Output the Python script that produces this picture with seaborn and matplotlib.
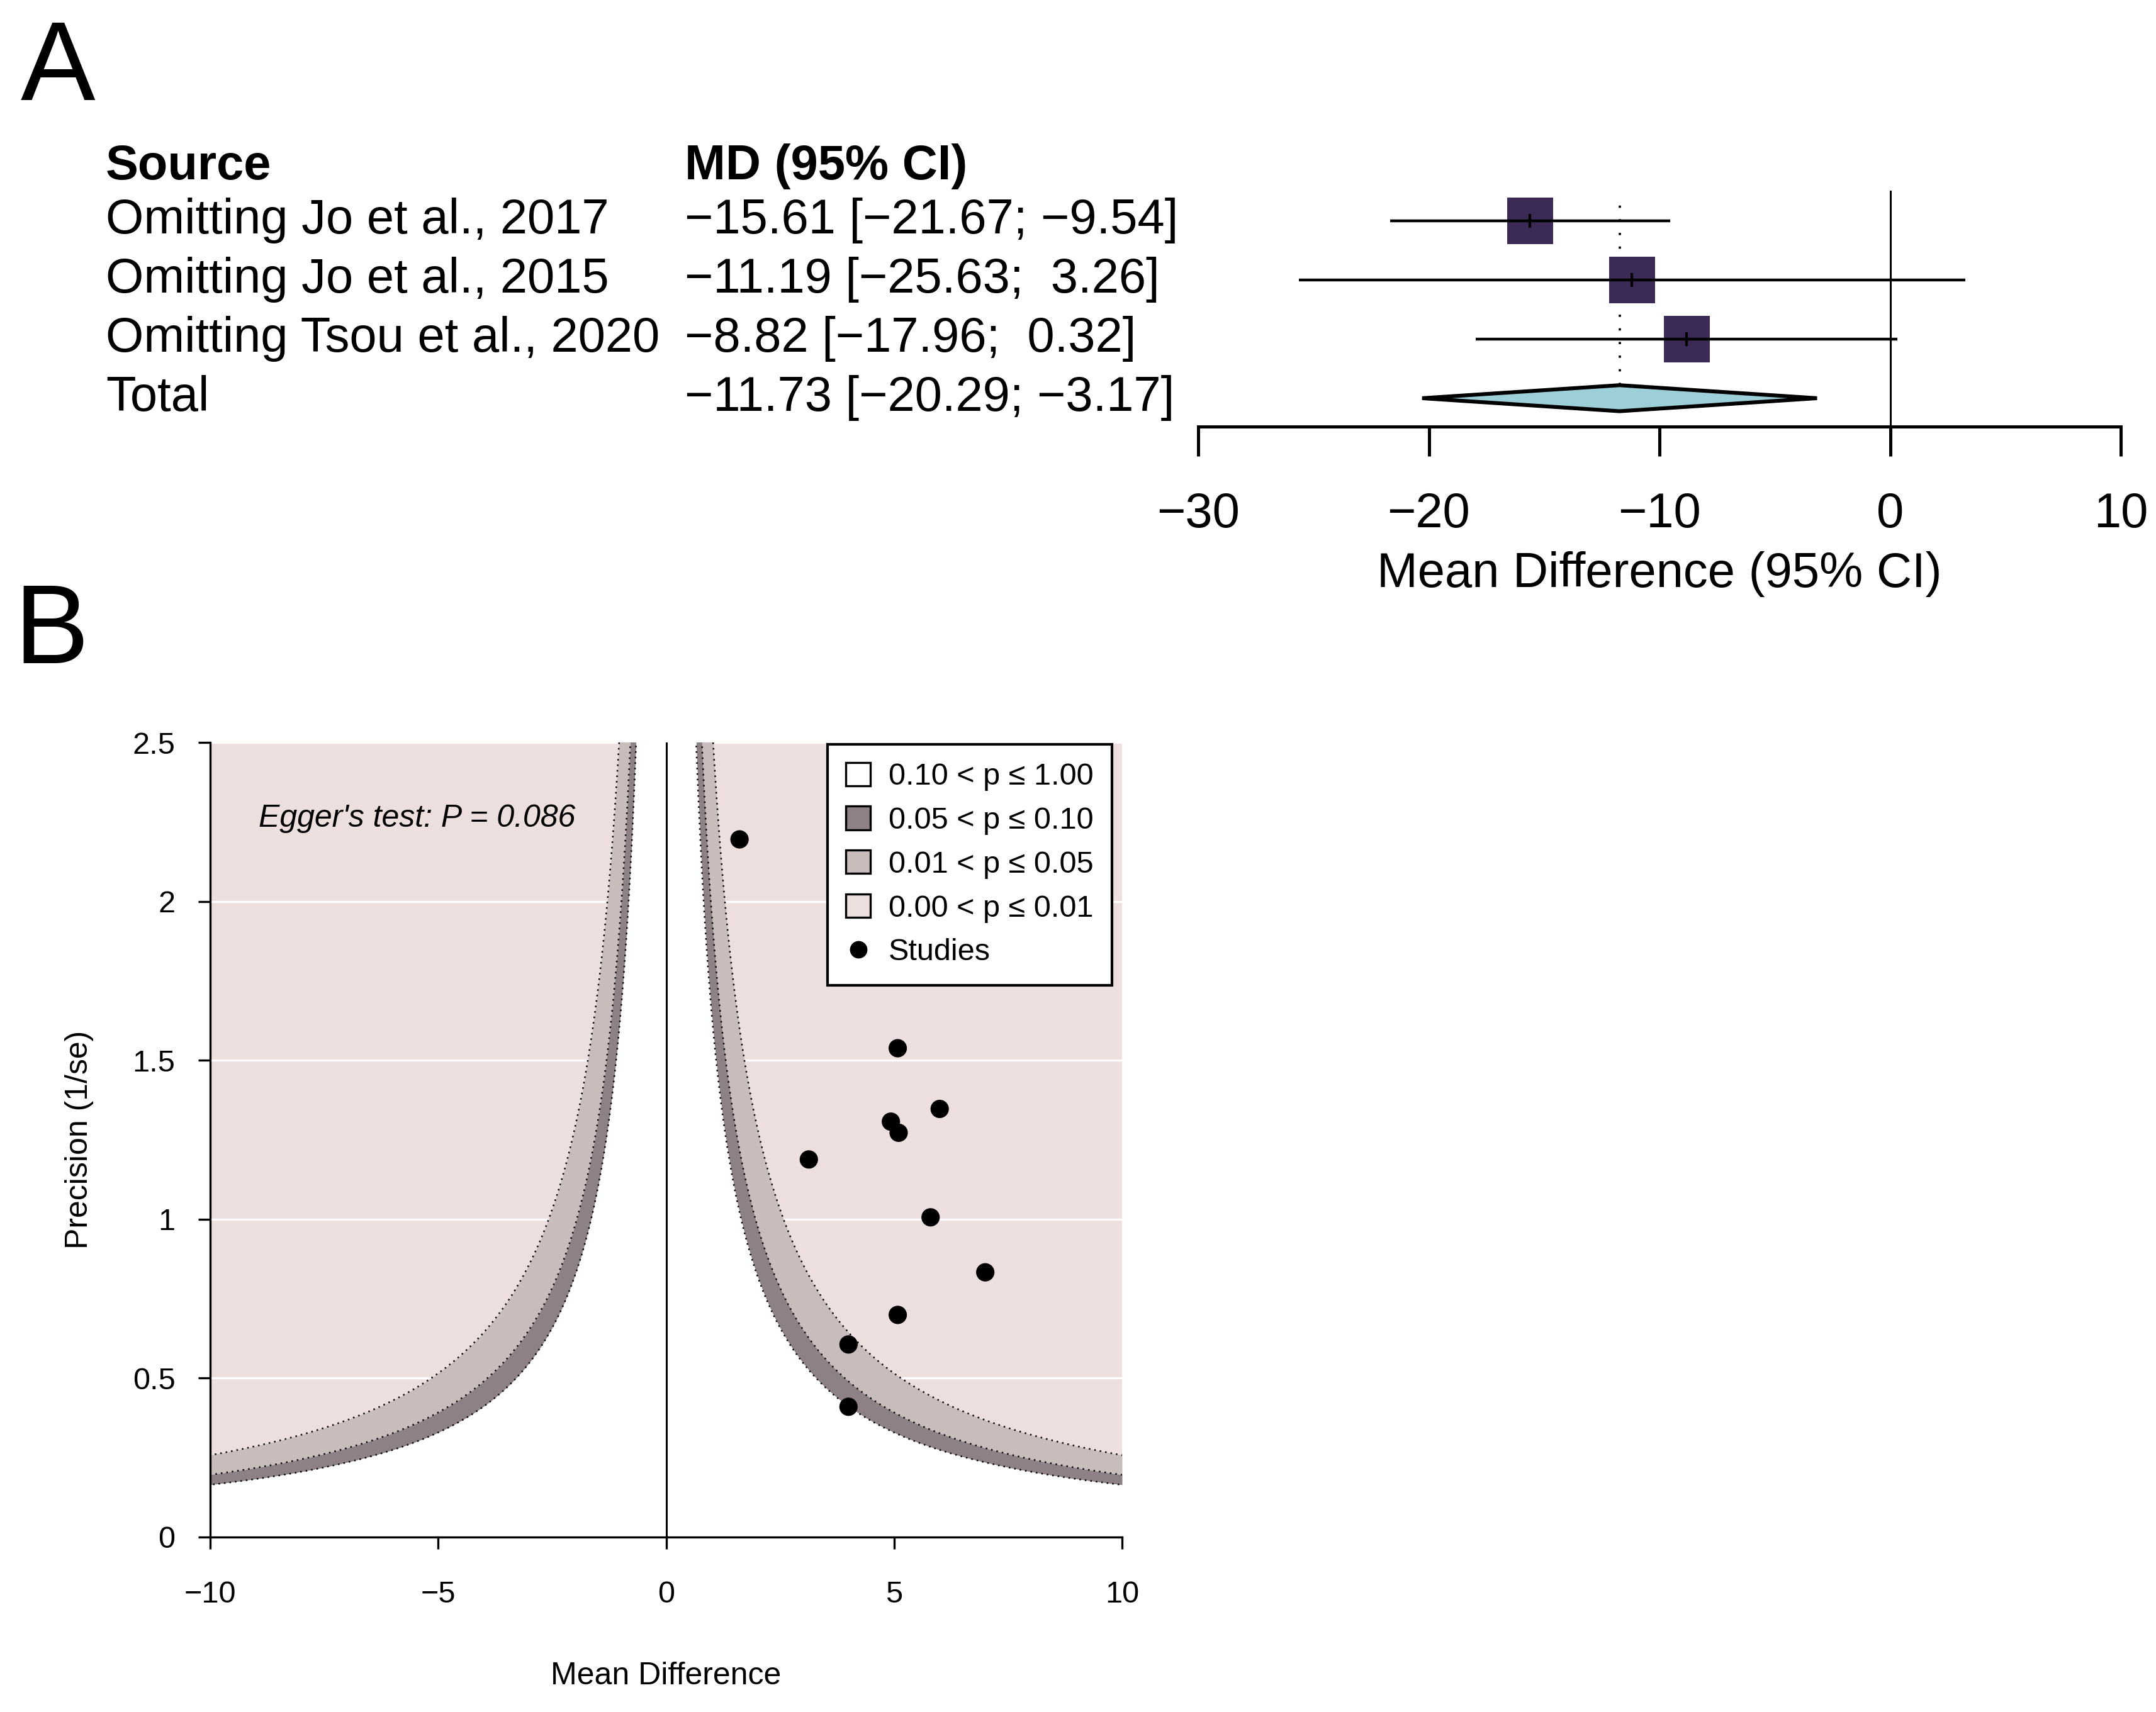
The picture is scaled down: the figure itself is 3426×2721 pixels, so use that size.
import matplotlib
matplotlib.use("Agg")
import matplotlib.pyplot as plt
import matplotlib.transforms as mtransforms
from matplotlib.patches import Patch
from matplotlib.lines import Line2D
import numpy as np
import pandas as pd
import seaborn as sns

# Panel A: leave-one-out sensitivity analysis
sources = ["Omitting Jo et al., 2017", "Omitting Jo et al., 2015", "Omitting Tsou et al., 2020"]
md = [-15.61, -11.19, -8.82]
ci_low = [-21.67, -25.63, -17.96]
ci_high = [-9.54, 3.26, 0.32]
total_md = -11.73
total_low = -20.29
total_high = -3.17
forest_ticks = [-30, -20, -10, 0, 10]

# Panel B: contour-enhanced funnel plot
study_md = [1.61, 5.08, 6.0, 4.93, 5.1, 3.13, 5.8, 7.0, 5.08, 4.0, 4.0]
study_prec = [2.195, 1.538, 1.347, 1.307, 1.272, 1.188, 1.006, 0.833, 0.699, 0.606, 0.41]
z_levels = [1.645, 1.96, 2.576]   # two-sided p = 0.10, 0.05, 0.01
legend_labels = ["0.10 < p \u2264 1.00", "0.05 < p \u2264 0.10", "0.01 < p \u2264 0.05", "0.00 < p \u2264 0.01"]
egger_text = "Egger's test: P = 0.086"

sns.set_style("white")
plt.rcParams['font.family'] = ['Liberation Sans', 'DejaVu Sans']
plt.rcParams['text.color'] = 'black'
plt.rcParams['axes.labelcolor'] = 'black'
plt.rcParams['xtick.color'] = 'black'
plt.rcParams['ytick.color'] = 'black'

MINUS = "\u2212"
def fmt(v, width=0):
    return f"{v:{width}.2f}".replace("-", MINUS)

fig = plt.figure(figsize=(17.13, 13.605), dpi=200)

# ---------------- Panel A ----------------
axA = fig.add_axes([1904 / 3426, 1 - 678 / 2721, (3370 - 1904) / 3426, (678 - 303) / 2721])
axA.set_xlim(-30, 10)
axA.set_ylim(0.52, 4.51)
rows = [4, 3, 2]
total_row = 1
fs_a = 28

df_forest = pd.DataFrame({"md": md, "row": rows})
sns.scatterplot(data=df_forest, x="md", y="row", marker="s", s=700, color="#3B2A55",
                edgecolor="none", ax=axA, zorder=2, legend=False)
axA.hlines(rows, ci_low, ci_high, color="black", lw=1.6, zorder=3)
axA.scatter(md, rows, marker="|", s=64, color="black", linewidths=1.5, zorder=4)

h = 0.22
axA.fill([total_low, total_md, total_high, total_md],
         [total_row, total_row + h, total_row, total_row - h],
         facecolor="#9DCFD8", edgecolor="black", lw=2.2, zorder=3)
axA.plot([total_md, total_md], [total_row + h, 4.35], color="black", lw=1.3,
         linestyle=(0, (1, 5)), zorder=1)
axA.axvline(0, color="black", lw=1.1, zorder=1)

for s in ["left", "top", "right"]:
    axA.spines[s].set_visible(False)
axA.spines["bottom"].set_linewidth(1.8)
axA.spines["bottom"].set_color("black")
axA.set_xticks(forest_ticks)
axA.set_yticks([])
axA.tick_params(axis="x", direction="out", length=17, width=1.8, pad=20,
                labelsize=fs_a, colors="black", bottom=True)
axA.set_xlabel("Mean Difference (95% CI)", fontsize=fs_a, labelpad=8)
axA.set_ylabel("")

trans = mtransforms.blended_transform_factory(fig.transFigure, axA.transData)
col1 = 168 / 3426
col2 = 1088 / 3426
axA.text(col1, 4.92, "Source", transform=trans, fontsize=fs_a, fontweight="bold", va="center", ha="left")
axA.text(col2, 4.92, "MD (95% CI)", transform=trans, fontsize=fs_a, fontweight="bold", va="center", ha="left")
for name, m, lo, hi, r in zip(sources, md, ci_low, ci_high, rows):
    axA.text(col1, r, name, transform=trans, fontsize=fs_a, va="center", ha="left")
    axA.text(col2, r, f"{fmt(m)} [{fmt(lo)}; {fmt(hi, 5)}]", transform=trans,
             fontsize=fs_a, va="center", ha="left")
axA.text(col1, total_row, "Total", transform=trans, fontsize=fs_a, va="center", ha="left")
axA.text(col2, total_row, f"{fmt(total_md)} [{fmt(total_low)}; {fmt(total_high, 5)}]",
         transform=trans, fontsize=fs_a, va="center", ha="left")

fig.text(33 / 3426, 1 - 30 / 2721, "A", fontsize=64, va="top", ha="left")
fig.text(22 / 3426, 1 - 925 / 2721, "B", fontsize=64, va="top", ha="left")

# ---------------- Panel B ----------------
pink = "#EEDFDF"
light = "#C9BDBC"
dark = "#8D8185"
axB = fig.add_axes([334 / 3426, 1 - 2443 / 2721, (1783 - 334) / 3426, (2443 - 1180) / 2721])
axB.set_facecolor(pink)
axB.set_xlim(-10, 10)
axB.set_ylim(0, 2.5)
axB.set_axisbelow(True)
axB.yaxis.grid(True, color="white", lw=1.2)
axB.xaxis.grid(False)

xs = np.linspace(0.001, 10, 2000)
for sign in (1, -1):
    xx = sign * xs
    b90 = np.minimum(z_levels[0] / xs, 3)
    b95 = np.minimum(z_levels[1] / xs, 3)
    b99 = np.minimum(z_levels[2] / xs, 3)
    axB.fill_between(xx, b95, b99, color=light, lw=0, zorder=1)
    axB.fill_between(xx, b90, b95, color=dark, lw=0, zorder=1)
    axB.fill_between(xx, 0, b90, color="white", lw=0, zorder=1)
    for b in (b90, b95, b99):
        axB.plot(xx, b, color="black", lw=0.9, linestyle=(0, (1, 2.5)), zorder=2)

axB.plot([0, 0], [0, 2.5], color="black", lw=1.1, zorder=3)

df_funnel = pd.DataFrame({"md": study_md, "prec": study_prec})
sns.scatterplot(data=df_funnel, x="md", y="prec", color="black", s=110, edgecolor="none",
                ax=axB, zorder=4, legend=False)

axB.text(-5.47, 2.26, egger_text, fontsize=18, style="italic", ha="center", va="center", zorder=5)

for s in ["top", "right"]:
    axB.spines[s].set_visible(False)
for s in ["left", "bottom"]:
    axB.spines[s].set_color("black")
    axB.spines[s].set_linewidth(1.2)
axB.set_xticks([-10, -5, 0, 5, 10])
axB.set_yticks([0, 0.5, 1, 1.5, 2, 2.5])
axB.set_yticklabels(["0", "0.5", "1", "1.5", "2", "2.5"])
axB.tick_params(axis="x", direction="out", length=7, width=1.2, pad=18, labelsize=17.5,
                colors="black", bottom=True)
axB.tick_params(axis="y", direction="out", length=7, width=1.2, pad=13, labelsize=17.5,
                colors="black", left=True)
axB.set_xlabel("Mean Difference", fontsize=18, labelpad=30)
axB.set_ylabel("Precision (1/se)", fontsize=18, labelpad=22)

handles = [Patch(facecolor=c, edgecolor="black", lw=1.2) for c in ["white", dark, light, pink]]
handles.append(Line2D([], [], marker="o", color="black", linestyle="none", markersize=9))
leg = axB.legend(handles, legend_labels + ["Studies"], loc="upper right",
                 bbox_to_anchor=(0.989, 0.998), borderaxespad=0, fontsize=17.5,
                 frameon=True, fancybox=False, framealpha=1, edgecolor="black",
                 handlelength=0.8, handleheight=0.8, handletextpad=0.6,
                 labelspacing=0.5, borderpad=0.6)
leg.get_frame().set_linewidth(1.5)
leg.set_zorder(6)

fig.savefig("out.png", dpi=200, facecolor="white")
